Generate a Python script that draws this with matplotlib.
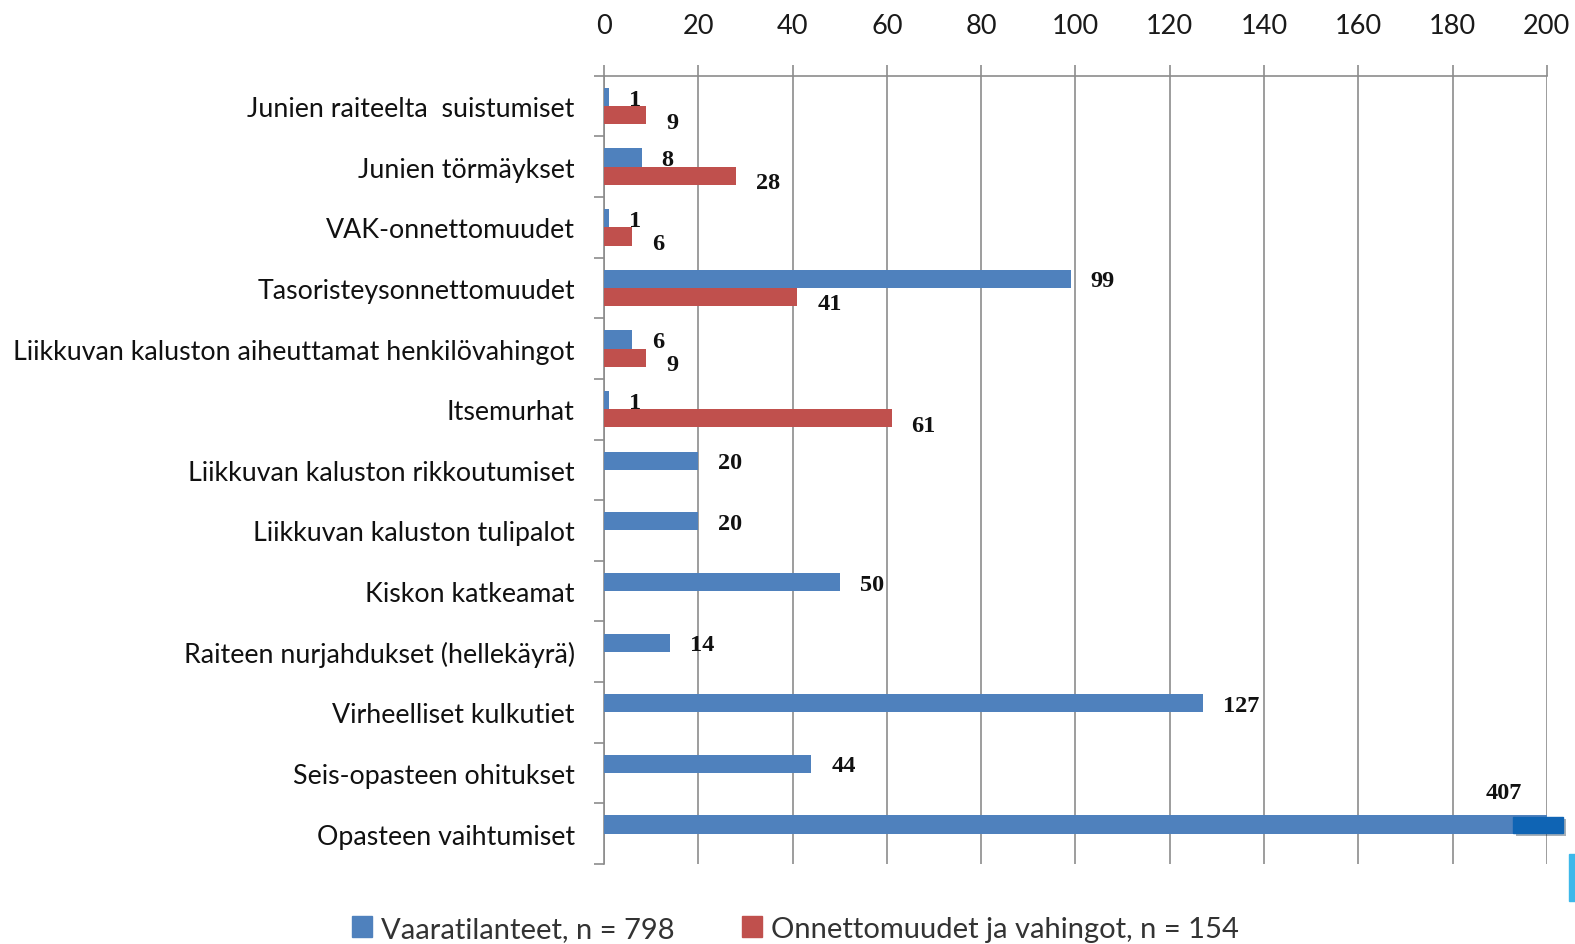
import matplotlib
matplotlib.use("Agg")
import matplotlib.pyplot as plt
from matplotlib.patches import Rectangle
import matplotlib.patheffects as pe
import numpy as np

categories = [
    "Junien raiteelta  suistumiset",
    "Junien törmäykset",
    "VAK-onnettomuudet",
    "Tasoristeysonnettomuudet",
    "Liikkuvan kaluston aiheuttamat henkilövahingot",
    "Itsemurhat",
    "Liikkuvan kaluston rikkoutumiset",
    "Liikkuvan kaluston tulipalot",
    "Kiskon katkeamat",
    "Raiteen nurjahdukset (hellekäyrä)",
    "Virheelliset kulkutiet",
    "Seis-opasteen ohitukset",
    "Opasteen vaihtumiset",
]
vaaratilanteet = [1, 8, 1, 99, 6, 1, 20, 20, 50, 14, 127, 44, 407]
onnettomuudet = [9, 28, 6, 41, 9, 61, None, None, None, None, None, None, None]
series_names = ["Vaaratilanteet, n = 798", "Onnettomuudet ja vahingot, n = 154"]
xticks = list(range(0, 201, 20))

BLUE = "#4F81BD"
RED = "#C0504D"
GRID = "#8C8C8C"
DARKBLUE = "#0F64B4"

fig = plt.figure(figsize=(15.75, 9.45), dpi=100)
ax = fig.add_axes([0.3835, 0.0847, 0.5986, 0.8341])

n = len(categories)
y = np.arange(n)
h = 0.3
xmax = 200

blue_vals = np.array(vaaratilanteet, dtype=float)
red_vals = np.array([v if v is not None else 0 for v in onnettomuudet], dtype=float)

ax.barh(y - h / 2, blue_vals, height=h, color=BLUE, zorder=3)
ax.barh(y + h / 2, red_vals, height=h, color=RED, zorder=3)

ax.set_xlim(0, xmax)
ax.set_ylim(n - 0.5, -0.5)

label_font = dict(family=["Liberation Serif", "DejaVu Serif"], fontsize=17.5,
                  fontweight="bold", color="#111111")
for i, v in enumerate(vaaratilanteet):
    if v > xmax:
        ax.annotate(str(v), xy=(xmax, i - h / 2), xytext=(-31, 23),
                    textcoords="offset points", ha="center", va="center",
                    annotation_clip=False, **label_font)
    else:
        ax.annotate(str(v), xy=(v, i - h / 2), xytext=(14.4, -1.5),
                    textcoords="offset points", ha="left", va="center", **label_font)
for i, v in enumerate(onnettomuudet):
    if v:
        ax.annotate(str(v), xy=(v, i + h / 2), xytext=(14.4, -5),
                    textcoords="offset points", ha="left", va="center", **label_font)

# break marker for the clipped bar
for i, v in enumerate(vaaratilanteet):
    if v > xmax:
        r = Rectangle((xmax - 7.1, i - h + 0.02), 10.6, h - 0.03, color=DARKBLUE, zorder=5,
                      clip_on=False,
                      path_effects=[pe.SimplePatchShadow(offset=(2, -2), alpha=0.35),
                                    pe.Normal()])
        ax.add_patch(r)

# axes styling
ax.xaxis.tick_top()
ax.set_xticks(xticks)
ax.set_xticklabels([str(t) for t in xticks], family=["Lato", "DejaVu Sans"],
                   fontsize=19.5, color="#1a1a1a")
ax.tick_params(axis="x", length=8, width=1.2, color=GRID, pad=19)
ax.grid(axis="x", color=GRID, linewidth=1.2, zorder=0)

ax.set_yticks(y)
ax.set_yticklabels(categories, family=["Lato", "DejaVu Sans"], fontsize=19.3,
                   color="#111111")
ax.set_yticks(np.arange(-0.5, n, 1), minor=True)
ax.tick_params(axis="y", which="major", length=0, pad=21)
ax.tick_params(axis="y", which="minor", length=7.5, width=1.2, color=GRID)

for s in ["right", "bottom"]:
    ax.spines[s].set_visible(False)
for s in ["top", "left"]:
    ax.spines[s].set_color(GRID)
    ax.spines[s].set_linewidth(1.2)

handles = [Rectangle((0, 0), 1, 1, color=BLUE), Rectangle((0, 0), 1, 1, color=RED)]
fig.legend(handles, series_names, loc="center", bbox_to_anchor=(0.505, 0.016),
           ncol=2, frameon=False, handlelength=0.7, handleheight=0.7,
           handletextpad=0.3, columnspacing=2.3,
           prop=dict(family=["Lato", "DejaVu Sans"], size=21))
for t in fig.legends[0].get_texts():
    t.set_color("#333333")

# cut-off decoration at the right edge
fig.patches.append(Rectangle((0.9965, 0.045), 0.004, 0.05, transform=fig.transFigure,
                             color="#3DB8EA", figure=fig))

fig.savefig("out.png", dpi=100)
